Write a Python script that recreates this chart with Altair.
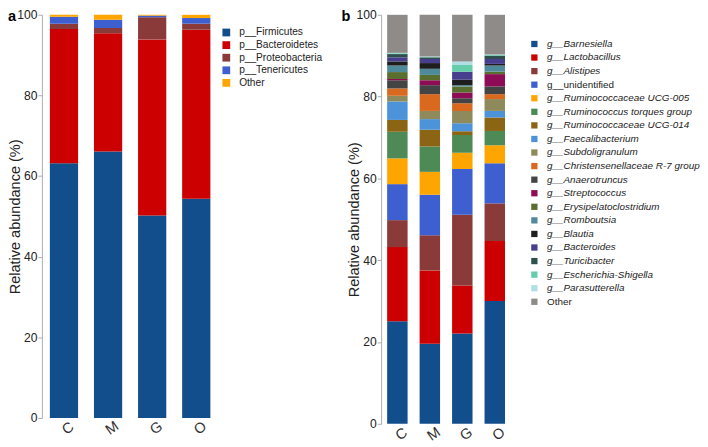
import altair as alt
import pandas as pd

FONT = "Liberation Sans"

groups = ["C", "M", "G", "O"]

# ---------- panel a: phyla ----------
phyla = ["p__Firmicutes", "p__Bacteroidetes", "p__Proteobacteria", "p__Tenericutes", "Other"]
phylum_colors = ["#134E8C", "#CC0000", "#8B3A3A", "#3D5FCF", "#FFA500"]
firmicutes = [63.2, 66.1, 50.2, 54.4]
bacteroidetes = [33.3, 29.3, 43.7, 41.9]
proteobacteria = [1.3, 1.3, 5.5, 1.5]
tenericutes = [1.7, 2.1, 0.4, 1.4]
phylum_other = [0.5, 1.2, 0.2, 0.8]
phylum_values = [firmicutes, bacteroidetes, proteobacteria, tenericutes, phylum_other]

# ---------- panel b: genera ----------
genera = [
    "g__Barnesiella", "g__Lactobacillus", "g__Alistipes", "g__unidentified",
    "g__Ruminococcaceae UCG-005", "g__Ruminococcus torques group",
    "g__Ruminococcaceae UCG-014", "g__Faecalibacterium", "g__Subdoligranulum",
    "g__Christensenellaceae R-7 group", "g__Anaerotruncus", "g__Streptococcus",
    "g__Erysipelatoclostridium", "g__Romboutsia", "g__Blautia", "g__Bacteroides",
    "g__Turicibacter", "g__Escherichia-Shigella", "g__Parasutterella", "Other",
]
genus_colors = [
    "#134E8C", "#CC0000", "#8B3A3A", "#3D5FCF", "#FFA500", "#4E8A56",
    "#8B6414", "#4D93D9", "#8E8A5C", "#D9691E", "#444444", "#8E0C55",
    "#5A6E30", "#4E8A9A", "#1E1E1E", "#473F8E", "#2F4F4F", "#66CDAA",
    "#B0E0E6", "#8F8B88",
]
barnesiella = [25.1, 19.6, 22.1, 30.0]
lactobacillus = [18.1, 17.9, 11.7, 14.7]
alistipes = [6.6, 8.6, 17.3, 9.2]
unidentified = [8.8, 9.9, 11.2, 9.8]
ucg005 = [6.3, 5.6, 4.0, 4.4]
torques = [6.5, 6.2, 4.3, 3.5]
ucg014 = [2.9, 4.1, 0.9, 3.3]
faecalibacterium = [4.5, 2.6, 2.0, 1.6]
subdoligranulum = [1.4, 2.0, 3.0, 2.9]
christensenellaceae = [1.8, 4.1, 1.9, 1.2]
anaerotruncus = [2.0, 2.2, 1.2, 1.9]
streptococcus = [0.3, 1.2, 1.4, 3.0]
erysipelatoclostridium = [1.7, 1.3, 1.5, 0.6]
romboutsia = [1.6, 1.5, 0.3, 1.5]
blautia = [1.0, 1.4, 1.3, 0.4]
bacteroides = [1.0, 1.0, 1.9, 1.2]
turicibacter = [0.8, 0.4, 0.1, 0.8]
escherichia = [0.2, 0.1, 1.6, 0.2]
parasutterella = [0.1, 0.1, 0.9, 0.1]
genus_other = [9.3, 10.2, 11.4, 9.7]
genus_values = [
    barnesiella, lactobacillus, alistipes, unidentified, ucg005, torques, ucg014,
    faecalibacterium, subdoligranulum, christensenellaceae, anaerotruncus,
    streptococcus, erysipelatoclostridium, romboutsia, blautia, bacteroides,
    turicibacter, escherichia, parasutterella, genus_other,
]


def long_table(names, values):
    rows = []
    for i, (name, vals) in enumerate(zip(names, values)):
        for g, v in zip(groups, vals):
            rows.append({"group": g, "taxon": name, "value": v, "idx": i})
    return pd.DataFrame(rows)


df_a = long_table(phyla, phylum_values)
df_b = long_table(genera, genus_values)


def panel(df, names, colors, width, height, pad_in, legend, letter, letter_x):
    x = alt.X(
        "group:N", sort=groups,
        scale=alt.Scale(paddingInner=pad_in, paddingOuter=pad_in / 2),
        axis=alt.Axis(title=None, labelAngle=325, domain=False, ticks=False,
                      labelFontSize=15, labelPadding=4, labelAlign="center",
                      labelBaseline="top", labelColor="#333333", labelFont=FONT),
    )
    y = alt.Y(
        "value:Q", stack="zero",
        scale=alt.Scale(domain=[0, 100], nice=False),
        axis=alt.Axis(values=[0, 20, 40, 60, 80, 100], title="Relative abundance (%)",
                      titleFontSize=15, titleFontWeight="normal", titleColor="#222222",
                      titleFont=FONT, titleX=-20, labelFontSize=12.5, labelColor="#222222",
                      labelFont=FONT, tickSize=4, labelPadding=1, tickColor="#aaaaaa",
                      domainColor="#aaaaaa", grid=False),
    )
    bars = alt.Chart(df).mark_bar().encode(
        x=x, y=y,
        color=alt.Color("taxon:N", scale=alt.Scale(domain=names, range=colors), legend=legend),
        order=alt.Order("idx:Q", sort="ascending"),
    )
    lab = alt.Chart(pd.DataFrame({"t": [letter]})).mark_text(
        font=FONT, fontSize=15, fontWeight="bold", align="left", baseline="top", color="#000000"
    ).encode(x=alt.value(letter_x), y=alt.value(-6), text="t:N")
    return alt.layer(bars, lab).properties(width=width, height=height)


legend_a = alt.Legend(
    title=None, orient="none", legendX=185, legendY=13, symbolType="square",
    symbolSize=64, symbolStrokeWidth=0, labelFontSize=10.5, labelFont=FONT,
    labelColor="#222222", rowPadding=2, labelOffset=8, labelLimit=300,
)
legend_b = alt.Legend(
    title=None, orient="none", legendX=153, legendY=25, symbolType="square",
    symbolSize=42, symbolStrokeWidth=0, labelFontSize=10.2, labelFont=FONT,
    labelColor="#222222", rowPadding=3.0, labelOffset=8, labelLimit=300,
    labelFontStyle={"expr": "(datum.value === 'g__unidentified' || datum.value === 'Other') ? 'normal' : 'italic'"},
)

chart_a = panel(df_a, phyla, phylum_colors, 182, 416, 0.36, legend_a, "a", -35)
chart_b = panel(df_b, genera, genus_colors, 134, 422, 0.37, legend_b, "b", -41)

chart = alt.hconcat(chart_a, chart_b, spacing=168, bounds="flush").resolve_scale(
    color="independent", x="independent", y="independent"
).properties(
    padding={"left": 0, "top": -6, "right": 0, "bottom": 0}
).configure_view(stroke=None).configure_axis(grid=False)

chart.save("out.html", embed_options={"renderer": "svg", "actions": False})
